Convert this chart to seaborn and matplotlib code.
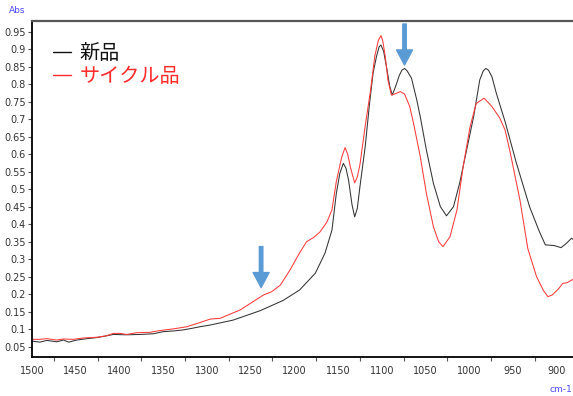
import matplotlib
matplotlib.use("Agg")
import matplotlib.pyplot as plt
from matplotlib.ticker import MultipleLocator, FuncFormatter
import seaborn as sns
import pandas as pd

# IR absorbance spectra: new product vs recycled product
wn_new = [1500, 1491, 1483, 1472, 1464, 1458, 1449, 1437, 1426, 1415, 1407, 1392,
          1376, 1361, 1350, 1338, 1327, 1316, 1308, 1296, 1270, 1239, 1213, 1194,
          1176, 1165, 1157, 1152, 1148, 1144, 1141, 1138, 1134, 1131, 1128, 1125,
          1119, 1114, 1110, 1106, 1103, 1101, 1098, 1094, 1091, 1088, 1084, 1080,
          1077, 1074, 1071, 1066, 1060, 1056, 1049, 1041, 1033, 1026, 1018, 1011,
          1003, 995, 988, 984, 981, 978, 974, 969, 959, 946, 931, 920, 913, 903,
          895, 889, 883, 881]
abs_new = [0.066, 0.063, 0.068, 0.064, 0.069, 0.063, 0.069, 0.073, 0.076, 0.081, 0.085, 0.084,
           0.085, 0.087, 0.093, 0.095, 0.098, 0.103, 0.107, 0.112, 0.126, 0.153, 0.182, 0.212,
           0.260, 0.317, 0.383, 0.488, 0.545, 0.574, 0.560, 0.526, 0.455, 0.421, 0.445, 0.507,
           0.621, 0.745, 0.831, 0.880, 0.907, 0.912, 0.895, 0.841, 0.795, 0.769, 0.795, 0.825,
           0.840, 0.845, 0.838, 0.817, 0.755, 0.707, 0.612, 0.517, 0.450, 0.424, 0.450, 0.517,
           0.612, 0.707, 0.812, 0.838, 0.845, 0.840, 0.821, 0.774, 0.693, 0.574, 0.450, 0.380, 0.341, 0.339,
           0.333, 0.345, 0.360, 0.356]

wn_rec = [1500, 1491, 1483, 1472, 1464, 1453, 1441, 1426, 1415, 1407, 1399, 1392,
          1380, 1365, 1354, 1338, 1323, 1308, 1296, 1285, 1262, 1247, 1235, 1226,
          1216, 1205, 1194, 1186, 1178, 1171, 1163, 1157, 1152, 1146, 1142, 1139,
          1136, 1131, 1128, 1125, 1119, 1113, 1108, 1104, 1101, 1099, 1096, 1093,
          1089, 1084, 1079, 1074, 1068, 1063, 1056, 1049, 1041, 1035, 1030, 1022,
          1014, 1007, 999, 992, 983, 974, 965, 959, 953, 942, 933, 923, 915, 910,
          905, 898, 893, 888, 881]
abs_rec = [0.071, 0.071, 0.073, 0.069, 0.072, 0.071, 0.075, 0.077, 0.081, 0.088, 0.088, 0.085,
           0.090, 0.091, 0.096, 0.101, 0.107, 0.119, 0.129, 0.131, 0.155, 0.179, 0.198, 0.207,
           0.226, 0.269, 0.318, 0.350, 0.362, 0.377, 0.405, 0.441, 0.522, 0.590, 0.619, 0.600,
           0.564, 0.518, 0.535, 0.570, 0.680, 0.780, 0.880, 0.925, 0.939, 0.925, 0.879, 0.812,
           0.769, 0.773, 0.779, 0.772, 0.736, 0.680, 0.593, 0.488, 0.393, 0.350, 0.336, 0.364,
           0.441, 0.564, 0.679, 0.745, 0.760, 0.736, 0.703, 0.669, 0.603, 0.469, 0.330, 0.250, 0.210, 0.193,
           0.198, 0.215, 0.231, 0.233, 0.243]

labels = ["新品", "サイクル品"]
colors = ["#333333", "#ff3a3a"]

# arrows marking the bands of interest: (wavenumber, top, tip)
arrow_marks = [(1074, 0.972, 0.855), (1238, 0.336, 0.219)]

x_ticks = list(range(1500, 899, -50))
y_ticks = [round(0.05 * i, 2) for i in range(1, 20)]

sns.set_style("ticks")
plt.rcParams["font.family"] = ["DejaVu Sans"]

fig = plt.figure(figsize=(5.73, 3.96), dpi=100)
ax = fig.add_axes([32 / 573, 38.8 / 396, 541.3 / 573, 336 / 396])

df_new = pd.DataFrame({"wn": wn_new, "abs": abs_new})
df_rec = pd.DataFrame({"wn": wn_rec, "abs": abs_rec})
sns.lineplot(data=df_new, x="wn", y="abs", sort=False, estimator=None,
             color=colors[0], lw=0.75, label=labels[0], ax=ax)
sns.lineplot(data=df_rec, x="wn", y="abs", sort=False, estimator=None,
             color=colors[1], lw=0.75, label=labels[1], ax=ax)

ax.set_xlim(1500, 881)
ax.set_ylim(0.02, 0.98)
ax.set_xlabel("")
ax.set_ylabel("")

ax.set_xticks(x_ticks)
ax.xaxis.set_minor_locator(MultipleLocator(25))
ax.set_yticks(y_ticks)
ax.yaxis.set_major_formatter(FuncFormatter(lambda v, p: f"{v:g}"))
ax.tick_params(axis="x", which="major", length=0, pad=6, labelsize=7, labelcolor="#333333")
ax.tick_params(axis="x", which="minor", length=3, width=0.8, color="#555555")
ax.tick_params(axis="y", which="major", length=3, width=0.8, color="#555555",
               pad=1.5, labelsize=7, labelcolor="#333333")

for side in ("left", "bottom"):
    ax.spines[side].set_color("black")
    ax.spines[side].set_linewidth(1.3)
ax.spines["top"].set_visible(True)
ax.spines["top"].set_color("#555555")
ax.spines["top"].set_linewidth(1.6)
ax.spines["right"].set_visible(False)

for wn, top, tip in arrow_marks:
    ax.annotate("", xy=(wn, tip), xytext=(wn, top),
                arrowprops=dict(arrowstyle="simple,head_length=1.08,head_width=1.15,tail_width=0.25",
                                color="#5b9bd5", mutation_scale=10, shrinkA=0, shrinkB=0))

leg = ax.legend(loc="upper left", bbox_to_anchor=(53 / 573, 1 - 43 / 396),
                bbox_transform=fig.transFigure, frameon=False, borderpad=0,
                borderaxespad=0, handlelength=0.9, handletextpad=0.4,
                labelspacing=0.12, labelcolor=["#111111", "#ff2a2a"],
                prop={"family": ["Noto Sans CJK JP", "DejaVu Sans"], "size": 14.5})
for line, c in zip(leg.get_lines(), ["#111111", "#ff2a2a"]):
    line.set_linewidth(1.0)
    line.set_color(c)

fig.text(9.3 / 573, 1 - 10.7 / 396, "Abs", color="#4a4aff", fontsize=6.5, va="center", ha="left")
fig.text(572 / 573, 1 - 390 / 396, "cm-1", color="#4a4aff", fontsize=6.5, va="center", ha="right")

fig.savefig("out.png", dpi=100)
